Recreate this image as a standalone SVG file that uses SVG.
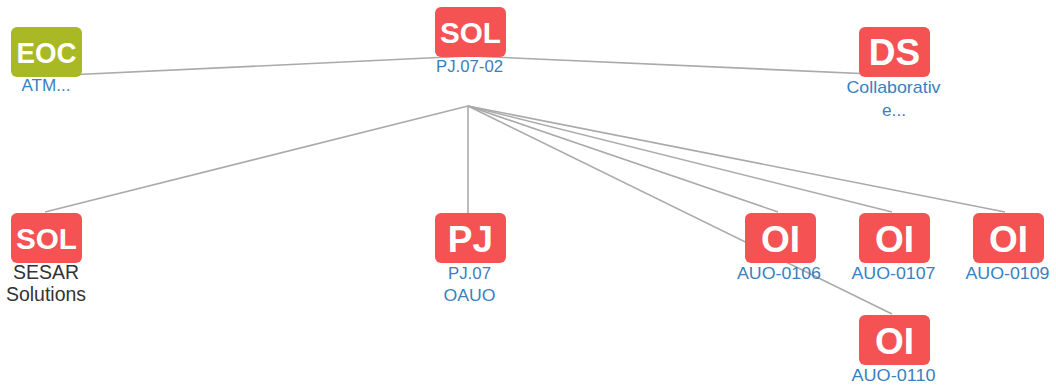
<svg xmlns="http://www.w3.org/2000/svg" width="1056" height="385" viewBox="0 0 1056 385">
<style>
.box{fill:#f55353}
.green{fill:#a9b925}
.ic{font-family:"Liberation Sans",Arial,sans-serif;font-weight:bold;font-size:29px;fill:#fff;text-anchor:middle}
.ic2{font-size:37px}
.lb{font-family:"Liberation Sans",Arial,sans-serif;font-size:17px;fill:#3a7fc0;text-anchor:middle}
.dk{fill:#333;font-size:19.5px}
.edge{stroke:#aaa;stroke-width:1.6;fill:none}
</style>
<rect width="1056" height="385" fill="#fff"/>
<g id="connectors">
<line class="edge" x1="46" y1="76" x2="470" y2="56"/>
<line class="edge" x1="470" y1="56" x2="894" y2="75"/>
<line class="edge" x1="468" y1="106" x2="45" y2="212"/>
<line class="edge" x1="468" y1="106" x2="468" y2="213"/>
<line class="edge" x1="468" y1="106" x2="778" y2="212"/>
<line class="edge" x1="468" y1="106" x2="892" y2="314"/>
<line class="edge" x1="468" y1="106" x2="892" y2="212"/>
<line class="edge" x1="468" y1="106" x2="1005" y2="212"/>
</g>
<g id="node-sol-top">
<rect class="box" x="435" y="7" width="71" height="50" rx="6"/>
<text class="ic" x="470.5" y="43.3" textLength="61" lengthAdjust="spacingAndGlyphs">SOL</text>
<text class="lb" x="469.5" y="72" textLength="67" lengthAdjust="spacingAndGlyphs">PJ.07-02</text>
</g>
<g id="node-eoc">
<rect class="green" x="11" y="27" width="71" height="50" rx="6"/>
<text class="ic" x="46.5" y="63.3" textLength="60" lengthAdjust="spacingAndGlyphs">EOC</text>
<text class="lb" x="46" y="91" textLength="49" lengthAdjust="spacingAndGlyphs">ATM...</text>
</g>
<g id="node-ds">
<rect class="box" x="859" y="27" width="71" height="50" rx="6"/>
<text class="ic ic2" x="894.5" y="65.3">DS</text>
<text class="lb" x="893.5" y="93" textLength="94" lengthAdjust="spacingAndGlyphs">Collaborativ</text>
<text class="lb" x="894" y="115.5" textLength="24" lengthAdjust="spacingAndGlyphs">e...</text>
</g>
<g id="node-sol-bottom">
<rect class="box" x="11" y="213" width="71" height="50" rx="6"/>
<text class="ic" x="46.5" y="249.3" textLength="61" lengthAdjust="spacingAndGlyphs">SOL</text>
<text class="lb dk" x="46" y="279" textLength="66" lengthAdjust="spacingAndGlyphs">SESAR</text>
<text class="lb dk" x="46" y="301" textLength="80" lengthAdjust="spacingAndGlyphs">Solutions</text>
</g>
<g id="node-pj">
<rect class="box" x="435" y="213" width="71" height="50" rx="6"/>
<text class="ic ic2" x="470.5" y="251.5">PJ</text>
<text class="lb" x="469.5" y="279" textLength="43" lengthAdjust="spacingAndGlyphs">PJ.07</text>
<text class="lb" x="469.5" y="301" textLength="52" lengthAdjust="spacingAndGlyphs">OAUO</text>
</g>
<g id="node-oi-0106">
<rect class="box" x="745" y="213" width="71" height="50" rx="6"/>
<text class="ic ic2" x="780.5" y="251.5">OI</text>
<text class="lb" x="779" y="278.5" textLength="84" lengthAdjust="spacingAndGlyphs">AUO-0106</text>
</g>
<g id="node-oi-0107">
<rect class="box" x="859" y="213" width="71" height="50" rx="6"/>
<text class="ic ic2" x="894.5" y="251.5">OI</text>
<text class="lb" x="893.5" y="278.5" textLength="84" lengthAdjust="spacingAndGlyphs">AUO-0107</text>
</g>
<g id="node-oi-0109">
<rect class="box" x="973" y="213" width="71" height="50" rx="6"/>
<text class="ic ic2" x="1008.5" y="251.5">OI</text>
<text class="lb" x="1007.5" y="278.5" textLength="84" lengthAdjust="spacingAndGlyphs">AUO-0109</text>
</g>
<g id="node-oi-0110">
<rect class="box" x="859" y="315" width="71" height="50" rx="6"/>
<text class="ic ic2" x="894.5" y="353.5">OI</text>
<text class="lb" x="893.5" y="380.5" textLength="84" lengthAdjust="spacingAndGlyphs">AUO-0110</text>
</g>
</svg>
